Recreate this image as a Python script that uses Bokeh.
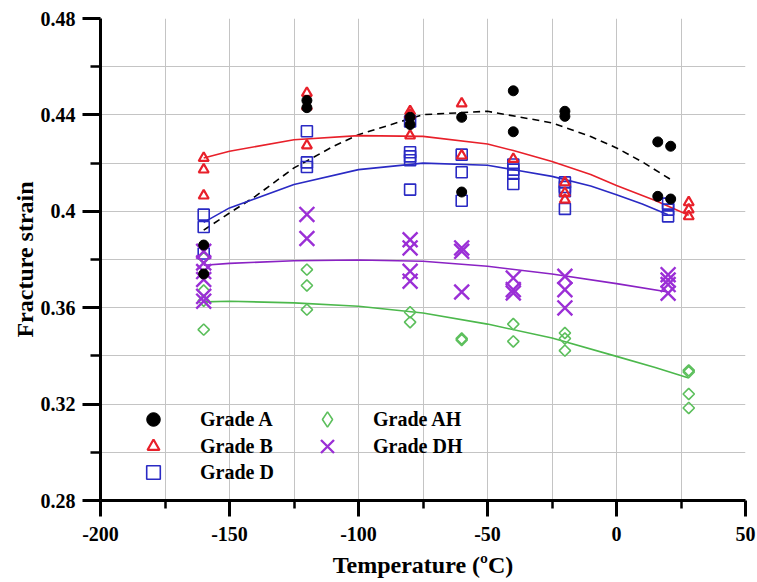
import math
from bokeh.plotting import figure
from bokeh.models import (Range1d, FixedTicker, CustomJSTickFormatter, Legend,
                          LegendItem)
from bokeh.embed import file_html
from bokeh.resources import INLINE

# ---------------- data ----------------
X_TICKS = [-200, -150, -100, -50, 0, 50]
X_MINOR = [-175, -125, -75, -25, 25]
Y_TICKS = [0.28, 0.32, 0.36, 0.40, 0.44, 0.48]
Y_MINOR = [0.30, 0.34, 0.38, 0.42, 0.46]

GRADE_A_T = [-160, -160, -120, -120, -80, -80, -60, -60, -40, -40, -20, -20, 16, 16, 21, 21]
GRADE_A_V = [0.386, 0.374, 0.446, 0.443, 0.439, 0.436, 0.439, 0.408, 0.450, 0.433,
             0.4415, 0.4394, 0.4288, 0.4062, 0.427, 0.4051]

GRADE_B_T = [-160, -160, -160, -120, -120, -120, -80, -80, -80, -60, -60, -40,
             -20, -20, -20, 28, 28, 28]
GRADE_B_V = [0.4221, 0.4173, 0.4065, 0.4491, 0.4435, 0.4273, 0.4415, 0.440, 0.4314,
             0.4447, 0.4231, 0.4217, 0.412, 0.4076, 0.4048, 0.4037, 0.4007, 0.3979]

GRADE_D_T = [-160, -160, -160, -120, -120, -120, -80, -80, -80, -80, -80,
             -60, -60, -60, -40, -40, -40, -40, -20, -20, -20, -20, 20, 20, 20]
GRADE_D_V = [0.3986, 0.3935, 0.3825, 0.4332, 0.4203, 0.4184, 0.4373, 0.4245, 0.4228,
             0.4212, 0.409, 0.4235, 0.4162, 0.4044, 0.4194, 0.4173, 0.4156, 0.4113,
             0.412, 0.4101, 0.4083, 0.401, 0.4032, 0.4007, 0.3979]

GRADE_AH_T = [-160, -160, -160, -160, -120, -120, -120, -80, -80, -60, -60,
              -40, -40, -20, -20, -20, 28, 28, 28, 28]
GRADE_AH_V = [0.3806, 0.3671, 0.3629, 0.3509, 0.3758, 0.3692, 0.3592, 0.3581, 0.354,
              0.3472, 0.3466, 0.3532, 0.346, 0.3495, 0.3472, 0.3422, 0.334, 0.3333,
              0.3242, 0.3184]

GRADE_DH_T = [-160, -160, -160, -160, -160, -160, -120, -120, -80, -80, -80, -80,
              -60, -60, -60, -40, -40, -40, -20, -20, -20, 20, 20, 20, 20]
GRADE_DH_V = [0.3834, 0.3786, 0.375, 0.3717, 0.3647, 0.3627, 0.3987, 0.3887,
              0.3882, 0.3848, 0.3751, 0.371, 0.3848, 0.3834, 0.3665, 0.3723, 0.3675,
              0.3661, 0.373, 0.3675, 0.3599, 0.3737, 0.3715, 0.3696, 0.366]

# fitted trend lines
FIT_A_T = [-160, -150, -140, -125, -110, -100, -75, -50, -25, -10, 0, 10, 21]
FIT_A_V = [0.3922, 0.3993, 0.4062, 0.418, 0.4268, 0.4318, 0.4401, 0.4415, 0.4367,
           0.4310, 0.4263, 0.4205, 0.4132]
FIT_B_T = [-160, -150, -125, -100, -75, -50, -40, -25, -10, 0, 15, 28]
FIT_B_V = [0.4221, 0.4249, 0.4297, 0.4314, 0.4311, 0.4279, 0.4252, 0.4207, 0.4153,
           0.4107, 0.4045, 0.3984]
FIT_D_T = [-160, -150, -125, -100, -75, -50, -25, -10, 0, 10, 20]
FIT_D_V = [0.3954, 0.4014, 0.4111, 0.4173, 0.4200, 0.4191, 0.4145, 0.4105, 0.4069,
           0.4030, 0.3986]
FIT_AH_T = [-160, -150, -125, -100, -75, -50, -25, 0, 15, 28]
FIT_AH_V = [0.3624, 0.3627, 0.3620, 0.3606, 0.3578, 0.3532, 0.3474, 0.3398, 0.3352,
            0.3308]
FIT_DH_T = [-160, -150, -125, -100, -75, -50, -25, 0, 20]
FIT_DH_V = [0.3776, 0.3784, 0.3795, 0.3798, 0.3793, 0.3772, 0.3740, 0.3700, 0.3665]

# ---------------- style ----------------
FONT = "Liberation Serif"
RED = "#e8202a"
BLUE = "#2a2ac4"
GREEN = "#5cbf5c"
PURPLE = "#9b2fd6"
GRID = "#c4c4c4"

p = figure(width=757, height=582, x_range=Range1d(-200, 50), y_range=Range1d(0.28, 0.48),
           output_backend="svg", toolbar_location=None,
           min_border_left=100, min_border_right=12, min_border_top=18,
           min_border_bottom=82)
p.outline_line_color = None
p.background_fill_color = "white"
p.border_fill_color = "white"

p.xaxis.ticker = FixedTicker(ticks=X_TICKS, minor_ticks=X_MINOR)
p.yaxis.ticker = FixedTicker(ticks=Y_TICKS, minor_ticks=Y_MINOR)
p.xaxis.formatter = CustomJSTickFormatter(code="return String(Math.round(tick))")
p.yaxis.formatter = CustomJSTickFormatter(code="return tick.toFixed(2).replace(/0$/, '')")

for g in (p.xgrid, p.ygrid):
    g.grid_line_color = GRID
    g.grid_line_width = 1
    g.minor_grid_line_color = GRID
    g.minor_grid_line_width = 1

for ax in (p.xaxis, p.yaxis):
    ax.axis_line_color = "black"
    ax.axis_line_width = 3
    ax.major_tick_line_color = "black"
    ax.major_tick_line_width = 3
    ax.minor_tick_line_color = "black"
    ax.minor_tick_line_width = 2.5
    ax.major_tick_in = 0
    ax.minor_tick_in = 0
    ax.major_label_text_font = FONT
    ax.major_label_text_font_style = "bold"
    ax.major_label_text_font_size = "20px"
    ax.major_label_text_color = "black"
    ax.axis_label_text_font = FONT
    ax.axis_label_text_font_style = "bold"
    ax.axis_label_text_font_size = "24px"
    ax.axis_label_text_color = "black"

p.xaxis.major_tick_out = 16
p.xaxis.minor_tick_out = 8
p.xaxis.major_label_standoff = 10
p.xaxis.axis_label = "Temperature (ºC)"
p.xaxis.axis_label_standoff = 8

p.yaxis.major_tick_out = 18
p.yaxis.minor_tick_out = 10
p.yaxis.major_label_standoff = 7
p.yaxis.axis_label = "Fracture strain"
p.yaxis.axis_label_standoff = 0

# fit lines
p.line(FIT_A_T, FIT_A_V, line_color="black", line_width=1.6, line_dash="7 5")
p.line(FIT_B_T, FIT_B_V, line_color=RED, line_width=1.6)
p.line(FIT_D_T, FIT_D_V, line_color=BLUE, line_width=1.6)
p.line(FIT_AH_T, FIT_AH_V, line_color="#4cb84c", line_width=1.6)
p.line(FIT_DH_T, FIT_DH_V, line_color="#8a22c4", line_width=1.6)

# markers
rD = p.scatter(GRADE_D_T, GRADE_D_V, marker="square", size=11, fill_color=None,
               line_color=BLUE, line_width=1.6)
rB = p.scatter(GRADE_B_T, GRADE_B_V, marker="triangle", size=10, fill_color=None,
               line_color=RED, line_width=2.2)
rAH = p.scatter(GRADE_AH_T, GRADE_AH_V, marker="square", angle=math.pi / 4, size=8,
                fill_color=None, line_color=GREEN, line_width=1.6)
rDH = p.scatter(GRADE_DH_T, GRADE_DH_V, marker="x", size=21, line_color=PURPLE,
                line_width=2.4)
rA = p.scatter(GRADE_A_T, GRADE_A_V, marker="circle", size=10, fill_color="black",
               line_color="black")
# legend key for the diamonds (legend glyphs ignore marker angle); hidden in the plot
rAH_key = p.scatter(GRADE_AH_T, GRADE_AH_V, marker="diamond", size=10, fill_color=None,
                    line_color=GREEN, line_width=1.6, visible=False)


def add_key(label, renderer, left, row_center, box=34, text_x=None):
    # one legend per row so that row pitch and key size can both match
    standoff = text_x - (left + box)
    bottom = 500 - (row_center + box // 2)
    leg = Legend(items=[LegendItem(label=label, renderers=[renderer])],
                 location=(left - 100, bottom), orientation="vertical",
                 glyph_width=box, glyph_height=box, label_height=box,
                 label_standoff=standoff, spacing=0, padding=0, margin=0,
                 border_line_color=None, background_fill_alpha=0,
                 label_text_font=FONT, label_text_font_style="bold",
                 label_text_font_size="20px", label_text_color="black")
    p.add_layout(leg)


add_key("Grade A", rA, 153 - 17, 419, 34, 200)
add_key("Grade B", rB, 153 - 15, 446, 30, 200)
add_key("Grade D", rD, 153 - 17, 472, 34, 200)
add_key("Grade AH", rAH_key, 327 - 19, 419, 38, 373)
add_key("Grade DH", rDH, 327 - 23, 446, 46, 373)

open("out.html", "w").write(file_html(p, INLINE))
